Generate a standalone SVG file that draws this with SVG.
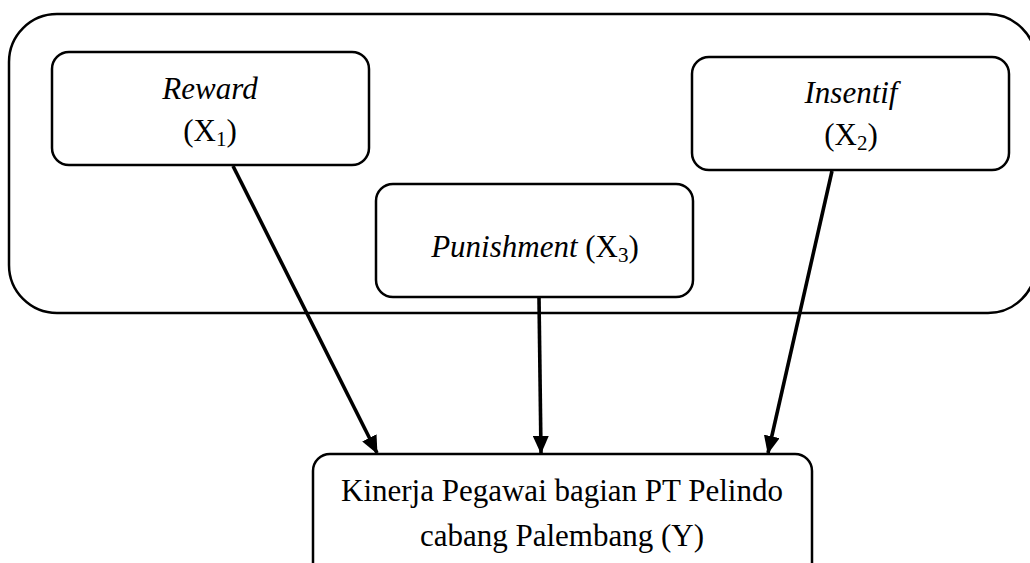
<svg xmlns="http://www.w3.org/2000/svg" width="1030" height="563" viewBox="0 0 1030 563">
<style>
.box{fill:#fff;stroke:#000;stroke-width:2.5}
.t{font-family:"Liberation Serif","Times New Roman",Tinos,serif;font-size:31px;fill:#000;text-anchor:middle}
.i{font-style:italic}
.sub{font-size:21px}
.c{stroke:#000;stroke-width:3.6;fill:none;marker-end:url(#ah)}
</style>
<defs>
<marker id="ah" viewBox="0 0 18 16" refX="17" refY="8" markerUnits="userSpaceOnUse" markerWidth="18" markerHeight="16" orient="auto">
<path d="M0,0 L18,8 L0,16 z" fill="#000"/>
</marker>
</defs>
<rect width="1030" height="563" fill="#fff"/>
<g id="group"><rect class="box" x="9" y="14" width="1027" height="299" rx="48" ry="48"/></g>
<g id="reward">
<rect class="box" x="52" y="52" width="317" height="113" rx="17" ry="17"/>
<text class="t i" x="210" y="99">Reward</text>
<text class="t" x="210" y="141">(X<tspan class="sub" dy="5">1</tspan><tspan dy="-5">)</tspan></text>
</g>
<g id="insentif">
<rect class="box" x="692" y="57" width="317" height="113" rx="17" ry="17"/>
<text class="t i" x="851" y="103">Insentif</text>
<text class="t" x="851" y="145">(X<tspan class="sub" dy="5">2</tspan><tspan dy="-5">)</tspan></text>
</g>
<g id="punishment">
<rect class="box" x="376" y="184" width="317" height="113" rx="17" ry="17"/>
<text class="t" x="535" y="257"><tspan class="i">Punishment</tspan> (X<tspan class="sub" dy="5">3</tspan><tspan dy="-5">)</tspan></text>
</g>
<g id="kinerja">
<rect class="box" x="313" y="454" width="499" height="140" rx="17" ry="17"/>
<text class="t" x="562" y="501">Kinerja Pegawai bagian PT Pelindo</text>
<text class="t" x="562" y="546">cabang Palembang (Y)</text>
</g>
<g id="connectors">
<path class="c" d="M233,166 L377,453"/>
<path class="c" d="M539,298 L541,453"/>
<path class="c" d="M832,171 L768,453"/>
</g>
</svg>
